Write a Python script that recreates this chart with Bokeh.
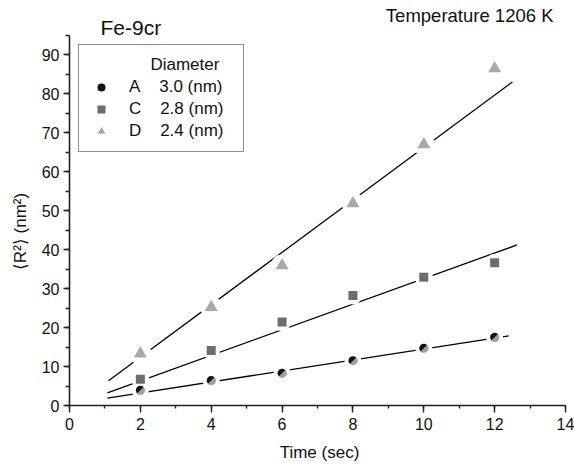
import math
from bokeh.plotting import figure
from bokeh.models import Legend, LegendItem, Label, SingleIntervalTicker, Range1d
from bokeh.embed import file_html
from bokeh.resources import INLINE

# ---- data ----
time_s = [2, 4, 6, 8, 10, 12]
r2_A = [3.9, 6.4, 8.3, 11.5, 14.7, 17.5]
r2_C = [6.7, 14.1, 21.4, 28.2, 32.9, 36.6]
r2_D = [13.3, 25.2, 35.9, 51.8, 66.9, 86.4]

series_names = ["A", "C", "D"]
diameters = ["3.0", "2.8", "2.4"]

# linear fits (slope, intercept) and their drawn extent in time
fit_slope = [1.41, 3.28, 6.72]
fit_intercept = [0.39, -0.26, -1.06]
fit_start = [1.07, 1.07, 1.10]
fit_end = [12.40, 12.63, 12.50]

x_ticks_bounds = (0, 14)
y_ticks_bounds = (0, 95)

FONT = "Liberation Sans"
NB = "\u00a0"

W, H = 574, 465
# frame covers whole canvas; axes drawn at fixed data locations
x0_px, x14_px = 69, 565
y0_px, y90_px = 405, 54  # from top of canvas
xs = (x14_px - x0_px) / 14.0
ys = (y0_px - y90_px) / 90.0
x_range = Range1d(-x0_px / xs, 14 + (W - x14_px) / xs)
y_range = Range1d(-(H - y0_px) / ys, y0_px / ys)

p = figure(width=W, height=H, output_backend="svg", toolbar_location=None,
           x_range=x_range, y_range=y_range,
           min_border=0)
p.outline_line_color = None
p.grid.visible = False
p.background_fill_color = "white"

for ax in (p.xaxis[0], p.yaxis[0]):
    ax.fixed_location = 0
    ax.axis_line_width = 1.6
    ax.axis_line_color = "#222222"
    ax.major_tick_line_color = "#222222"
    ax.minor_tick_line_color = "#222222"
    ax.major_tick_line_width = 1.4
    ax.minor_tick_line_width = 1.4
    ax.major_tick_in = 0
    ax.minor_tick_in = 0
    ax.major_label_text_font = FONT
    ax.major_label_text_font_size = "16px"
    ax.major_label_text_color = "#111111"

p.xaxis[0].bounds = x_ticks_bounds
p.yaxis[0].bounds = y_ticks_bounds
p.xaxis[0].ticker = SingleIntervalTicker(interval=2, num_minor_ticks=2)
p.yaxis[0].ticker = SingleIntervalTicker(interval=10, num_minor_ticks=2)
p.xaxis[0].major_tick_out = 7
p.xaxis[0].minor_tick_out = 3
p.yaxis[0].major_tick_out = 6
p.yaxis[0].minor_tick_out = 4
p.xaxis[0].major_label_standoff = 5
p.yaxis[0].major_label_standoff = 4

# fit lines
for s, b, a0, a1 in zip(fit_slope, fit_intercept, fit_start, fit_end):
    p.line([a0, a1], [s * a0 + b, s * a1 + b], line_color="black", line_width=1.3)

# white halos to break lines around markers
p.scatter(time_s, r2_A, marker="circle", size=17, fill_color="white", line_color=None)
p.scatter(time_s, r2_C, marker="circle", size=18, fill_color="white", line_color=None)
p.scatter(time_s, r2_D, marker="circle", size=22, fill_color="white", line_color=None)

rA = p.scatter(time_s, r2_A, marker="circle", size=9, fill_color="#111111", line_color=None)
p.wedge(time_s, r2_A, radius=4.6, radius_units="screen",
        start_angle=1.25 * math.pi, end_angle=2.25 * math.pi,
        fill_color="white", fill_alpha=0.6, line_color=None)
rC = p.scatter(time_s, r2_C, marker="square", size=9, fill_color="#6d6d6d", line_color=None)
rD = p.scatter(time_s, r2_D, marker="triangle", size=13, fill_color="#a9a9a9", line_color=None)

items = []
for name, d, r in zip(series_names, diameters, [rA, rC, rD]):
    items.append(LegendItem(label=name + NB * 4 + d + " (nm)" + NB * 2, renderers=[r]))

legend = Legend(items=items, location=(78, 313),
                title=NB * 13 + "Diameter",
                title_text_font=FONT, title_text_font_size="17px", title_text_font_style="normal",
                title_text_color="#111111", title_standoff=2,
                label_text_font=FONT, label_text_font_size="17px", label_text_color="#111111",
                glyph_width=24, glyph_height=20, label_height=20, spacing=2,
                label_standoff=16, padding=10, margin=0,
                border_line_color="#222222", border_line_width=1.3,
                background_fill_color="white", background_fill_alpha=1.0)
p.add_layout(legend, "center")

p.add_layout(Label(x=100, y=438, x_units="screen", y_units="screen", text="Fe-9cr",
                   text_font=FONT, text_font_size="21px", text_baseline="middle",
                   text_color="#111111"))
p.add_layout(Label(x=553, y=450, x_units="screen", y_units="screen", text="Temperature 1206 K",
                   text_font=FONT, text_font_size="18.5px", text_baseline="middle", text_align="right",
                   text_color="#111111"))
p.add_layout(Label(x=20, y=234, x_units="screen", y_units="screen", text="\u27e8R\u00b2\u27e9 (nm\u00b2)",
                   angle=math.pi / 2, text_font=FONT, text_font_size="17px",
                   text_baseline="middle", text_align="center", text_color="#111111"))
p.add_layout(Label(x=319, y=13, x_units="screen", y_units="screen", text="Time (sec)",
                   text_font=FONT, text_font_size="17px", text_baseline="middle", text_align="center",
                   text_color="#111111"))

open("out.html", "w").write(file_html(p, INLINE))
